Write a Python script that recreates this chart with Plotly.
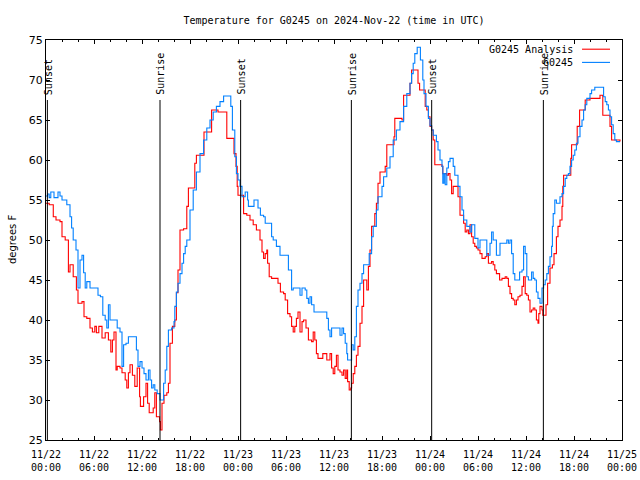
import plotly.graph_objects as go

# Hours since 2024-11-22 00:00 UTC
ana_hours = [0.0, 0.4, 0.91, 1.25, 1.75, 2.0, 2.4, 2.8, 3.0, 3.4, 3.8, 4.0, 4.5, 4.75, 5.1, 5.5, 5.8, 6.1, 6.3, 6.6,
             7.0, 7.4, 7.8, 8.1, 8.3, 8.5, 8.75, 8.9, 9.25, 9.5, 9.9, 10.1, 10.3, 10.5, 10.8, 11.1, 11.4, 11.7, 11.8, 12.2,
             12.5, 12.7, 12.9, 13.2, 13.4, 13.6, 13.8, 14.2, 14.3, 14.5, 14.75, 15.1, 15.3, 15.5, 15.8, 16.1, 16.3, 16.5, 16.75, 17.2,
             17.6, 17.8, 18.4, 18.6, 18.8, 19.6, 19.75, 20.5, 20.7, 21.5, 22.4, 22.6, 23.4, 23.5, 23.75, 23.9, 24.0, 24.5, 24.7, 25.1,
             25.5, 25.9, 26.3, 26.75, 27.0, 27.2, 27.4, 27.6, 27.7, 27.9, 28.2, 29.0, 29.3, 29.7, 29.9, 30.2, 30.5, 30.7, 30.9, 31.1,
             31.3, 31.5, 31.75, 32.0, 32.2, 32.5, 32.8, 33.2, 33.4, 33.6, 33.8, 34.0, 34.6, 35.1, 35.5, 35.7, 35.9, 36.1, 36.3, 36.5,
             36.75, 37.0, 37.2, 37.4, 37.6, 37.7, 37.9, 38.1, 38.2, 38.4, 38.6, 38.8, 39.0, 39.25, 39.5, 39.7, 40.1, 40.3, 40.5, 40.7,
             41.1, 41.3, 41.5, 41.75, 42.4, 42.6, 43.5, 43.6, 44.5, 44.7, 45.5, 45.7, 46.5, 46.7, 47.4, 47.6, 47.8, 48.0, 48.2, 48.4,
             48.6, 49.5, 49.6, 50.1, 50.3, 50.5, 50.7, 50.9, 51.5, 51.75, 52.2, 52.4, 52.6, 52.8, 53.0, 53.2, 53.4, 53.6, 53.8, 54.0,
             54.25, 54.5, 54.9, 55.1, 55.3, 55.7, 55.9, 56.1, 56.3, 56.7, 57.0, 57.4, 57.6, 57.8, 58.0, 58.2, 58.4, 58.6, 58.8, 59.0,
             59.25, 59.5, 59.7, 59.9, 60.1, 60.3, 60.5, 60.7, 60.9, 61.1, 61.3, 61.5, 61.6, 61.75, 62.0, 62.1, 62.5, 62.7, 63.0, 63.3,
             63.5, 63.8, 64.0, 64.25, 64.5, 64.6, 64.7, 65.6, 65.7, 66.4, 66.7, 67.4, 68.0, 69.25, 69.6, 70.5, 70.7, 71.75]
ana_temp = [54.6, 54.4, 52.9, 52.5, 52.3, 50.4, 50.0, 46.0, 46.9, 45.4, 43.75, 42.1, 42.3, 40.4, 40.2, 39.0, 38.5, 39.2, 38.4, 39.2,
            37.75, 38.4, 37.5, 36.0, 37.5, 38.5, 33.75, 34.2, 34.0, 33.4, 32.5, 31.5, 33.4, 34.4, 33.1, 31.7, 34.0, 30.4, 29.2, 30.4,
            32.1, 29.6, 28.4, 28.4, 29.0, 30.9, 27.9, 27.3, 26.25, 29.6, 30.6, 30.9, 32.1, 37.1, 39.2, 40.0, 43.4, 46.25, 51.25, 51.4,
            54.2, 56.5, 56.5, 59.6, 60.6, 60.6, 63.5, 63.5, 66.25, 66.0, 66.0, 62.7, 62.7, 60.8, 59.2, 56.7, 55.6, 55.6, 53.3, 53.1,
            52.5, 51.9, 51.25, 50.0, 48.5, 47.7, 48.3, 48.75, 47.1, 45.4, 45.2, 44.6, 43.5, 43.3, 42.5, 40.8, 40.4, 39.2, 38.5, 39.2,
            40.2, 41.0, 38.5, 39.8, 40.0, 39.0, 37.5, 37.3, 38.5, 37.5, 35.8, 35.2, 35.8, 35.0, 35.8, 34.0, 33.3, 34.2, 35.6, 33.75,
            33.5, 33.1, 33.75, 32.7, 33.75, 32.3, 31.25, 31.5, 32.1, 33.3, 34.2, 35.6, 36.7, 39.6, 41.7, 45.0, 43.75, 46.7, 48.75, 51.7,
            53.3, 54.6, 57.1, 58.5, 59.2, 61.9, 62.9, 65.2, 65.0, 68.1, 69.6, 71.25, 69.6, 68.75, 66.7, 66.25, 65.4, 64.2, 63.75, 62.5,
            59.4, 59.2, 58.3, 58.1, 58.3, 57.5, 55.8, 56.7, 55.4, 53.1, 52.1, 51.0, 51.25, 50.8, 51.9, 50.4, 49.6, 49.2, 49.0, 48.75,
            48.3, 47.7, 47.9, 48.3, 47.1, 47.3, 46.9, 46.25, 45.8, 45.0, 45.2, 45.4, 45.2, 44.2, 43.3, 42.7, 42.5, 41.9, 42.5, 42.9,
            43.1, 44.2, 45.4, 43.3, 43.1, 42.5, 41.0, 41.25, 41.5, 41.25, 40.0, 39.6, 40.8, 41.7, 41.25, 40.6, 41.9, 44.6, 46.5, 46.9,
            48.3, 50.4, 51.7, 52.5, 54.2, 56.7, 58.1, 60.2, 61.9, 64.2, 66.25, 67.5, 67.7, 68.1, 65.6, 64.2, 62.5, 62.3]

obs_hours = [0.0, 0.2, 0.4, 0.6, 1.0, 1.5, 1.75, 2.0, 2.6, 3.0, 3.2, 3.4, 3.75, 4.0, 4.25, 4.5, 4.7, 4.9, 5.1, 5.5,
             6.5, 6.8, 7.1, 7.4, 7.6, 7.8, 8.0, 8.9, 9.25, 9.5, 9.7, 10.0, 10.3, 11.3, 11.5, 11.75, 12.0, 12.25, 12.5, 12.8,
             13.0, 13.2, 13.4, 13.6, 13.9, 14.25, 14.7, 14.9, 15.1, 15.3, 15.7, 16.0, 16.1, 16.3, 16.5, 16.75, 17.0, 17.2, 17.4, 17.6,
             18.0, 18.4, 18.8, 19.25, 19.7, 20.1, 20.5, 20.9, 21.3, 21.75, 22.2, 23.1, 23.3, 23.6, 23.8, 24.0, 24.25, 24.5, 24.9, 25.2,
             25.3, 26.0, 26.5, 26.8, 27.2, 27.4, 28.2, 28.4, 28.8, 29.25, 30.3, 30.7, 30.9, 31.75, 32.0, 32.4, 32.6, 32.8, 33.0, 33.2,
             33.5, 35.1, 35.3, 35.5, 35.7, 36.75, 37.0, 37.2, 37.4, 37.6, 37.7, 38.2, 38.4, 38.6, 38.8, 39.0, 39.25, 39.5, 39.7, 40.4,
             40.7, 40.9, 41.3, 41.5, 42.0, 42.2, 42.6, 43.0, 43.4, 43.8, 44.25, 44.7, 45.1, 45.5, 45.7, 45.9, 46.1, 46.4, 46.8, 47.1,
             47.25, 47.5, 47.8, 48.0, 48.2, 48.4, 48.8, 49.0, 49.25, 49.5, 49.6, 49.75, 49.9, 50.1, 50.3, 50.5, 50.9, 51.1, 51.5, 51.75,
             52.0, 52.2, 52.6, 53.0, 53.2, 53.6, 54.0, 54.25, 55.1, 55.5, 55.7, 55.9, 56.3, 56.75, 57.6, 57.8, 58.0, 58.2, 58.4, 58.6,
             59.2, 59.5, 59.7, 59.9, 60.1, 60.3, 60.7, 60.9, 61.1, 61.3, 61.5, 61.75, 62.0, 62.2, 62.4, 62.6, 62.8, 63.0, 63.2, 63.3,
             63.4, 63.6, 63.8, 64.25, 64.5, 64.7, 64.9, 65.1, 65.3, 65.5, 65.7, 65.9, 66.1, 66.3, 66.5, 66.75, 67.0, 67.2, 67.4, 67.6,
             68.0, 68.2, 68.6, 69.7, 69.9, 70.1, 70.3, 70.5, 70.7, 70.9, 71.1, 71.3, 71.75]
obs_temp = [55.5, 55.75, 55.3, 56.0, 55.3, 56.0, 55.5, 55.0, 54.4, 52.9, 51.5, 50.0, 48.75, 44.0, 47.5, 48.1, 45.9, 44.0, 44.8, 44.0,
            43.1, 42.9, 40.6, 40.0, 39.0, 41.9, 40.0, 39.0, 38.5, 34.2, 36.9, 37.1, 37.9, 36.25, 34.2, 34.8, 34.0, 33.3, 32.5, 33.75,
            32.5, 31.5, 31.9, 31.25, 30.8, 30.0, 32.1, 33.75, 36.7, 38.75, 39.0, 39.8, 41.7, 43.5, 44.6, 45.8, 47.1, 48.3, 49.2, 50.0,
            53.75, 56.25, 58.5, 60.8, 62.5, 64.0, 65.0, 66.0, 66.7, 67.3, 68.0, 66.7, 63.75, 60.4, 58.3, 57.5, 56.7, 55.4, 56.0, 55.0,
            54.2, 55.0, 54.0, 53.1, 52.9, 52.1, 50.4, 50.0, 49.2, 48.1, 46.25, 43.75, 44.0, 43.1, 44.0, 43.75, 42.7, 42.1, 42.9, 41.9,
            41.0, 40.2, 38.75, 37.9, 39.0, 38.1, 39.0, 38.3, 37.1, 35.8, 35.0, 36.9, 36.25, 37.9, 41.7, 43.75, 44.6, 45.8, 46.9, 48.3,
            50.4, 51.7, 53.75, 55.4, 56.7, 57.9, 59.0, 60.4, 62.5, 63.75, 64.8, 66.7, 68.3, 69.6, 70.8, 72.1, 73.3, 74.1, 72.5, 70.0,
            68.3, 66.7, 65.2, 64.3, 63.75, 63.1, 62.3, 61.25, 60.0, 59.2, 57.1, 58.3, 56.9, 59.0, 59.8, 60.2, 59.2, 58.1, 56.7, 55.4,
            53.75, 52.5, 51.7, 51.0, 51.9, 50.2, 49.0, 50.0, 48.1, 49.6, 51.0, 50.0, 48.1, 49.6, 50.0, 49.6, 50.0, 48.3, 45.8, 45.0,
            46.0, 46.25, 49.2, 48.3, 45.4, 45.0, 46.0, 45.2, 45.0, 43.5, 42.7, 42.1, 44.0, 44.4, 45.0, 45.8, 46.7, 47.9, 49.2, 51.7,
            53.3, 55.0, 54.6, 55.4, 55.8, 56.7, 57.7, 58.1, 58.3, 59.2, 60.0, 60.6, 61.25, 62.1, 62.9, 64.2, 65.0, 66.25, 66.9, 67.7,
            68.3, 68.75, 69.1, 67.9, 67.3, 66.9, 66.25, 65.4, 64.4, 63.3, 62.5, 62.3, 62.3]

sun_hours = [0.17, 14.25, 24.33, 38.17, 48.21, 62.17]
sun_labels = ["Sunset", "Sunrise", "Sunset", "Sunrise", "Sunset", "Sunrise"]

series_names = ["G0245 Analysis", "G0245"]
series_colors = ["#ff0000", "#0080ff"]

tick_hours = [0, 6, 12, 18, 24, 30, 36, 42, 48, 54, 60, 66, 72]
tick_labels = ["11/22<br>00:00", "11/22<br>06:00", "11/22<br>12:00", "11/22<br>18:00",
               "11/23<br>00:00", "11/23<br>06:00", "11/23<br>12:00", "11/23<br>18:00",
               "11/24<br>00:00", "11/24<br>06:00", "11/24<br>12:00", "11/24<br>18:00",
               "11/25<br>00:00"]

MONO = "DejaVu Sans Mono"

fig = go.Figure()
fig.add_trace(go.Scatter(x=ana_hours, y=ana_temp, mode="lines", line_shape="hv",
                         line=dict(color=series_colors[0], width=1.1), name=series_names[0],
                         showlegend=False))
fig.add_trace(go.Scatter(x=obs_hours, y=obs_temp, mode="lines", line_shape="hv",
                         line=dict(color=series_colors[1], width=1.1), name=series_names[1],
                         showlegend=False))

shapes = []
annotations = []
for h, lab in zip(sun_hours, sun_labels):
    shapes.append(dict(type="line", xref="x", yref="y", x0=h, x1=h, y0=25, y1=67.5,
                       line=dict(color="black", width=1)))
    annotations.append(dict(x=h, y=67.9, xref="x", yref="y", text=lab, textangle=-90,
                            showarrow=False, xanchor="center", yanchor="bottom", xshift=1,
                            font=dict(family=MONO, size=10, color="black")))

# manual legend (gnuplot style: text then sample on the right)
leg_y = [0.977, 0.944]
for name, col, yy in zip(series_names, series_colors, leg_y):
    annotations.append(dict(x=0.9184, y=yy, xref="paper", yref="paper", text=name,
                            showarrow=False, xanchor="right", yanchor="middle",
                            font=dict(family=MONO, size=10, color="black")))
    shapes.append(dict(type="line", xref="paper", yref="paper", x0=0.9306, x1=0.9792,
                       y0=yy, y1=yy, line=dict(color=col, width=1.1)))

annotations.append(dict(x=-0.059, y=0.5, xref="paper", yref="paper", text="degrees F",
                        textangle=-90, showarrow=False, xanchor="center", yanchor="middle",
                        font=dict(family="DejaVu Sans", size=10, color="black")))

fig.update_layout(
    width=640, height=480,
    margin=dict(l=46, r=18, t=40, b=40, autoexpand=False),
    paper_bgcolor="white", plot_bgcolor="white",
    title=dict(text="Temperature for G0245 on 2024-Nov-22 (time in UTC)",
               x=0.5, xref="paper", xanchor="center", y=1 - 20 / 480, yref="container",
               yanchor="middle", font=dict(family=MONO, size=10, color="black")),
    shapes=shapes, annotations=annotations,
    showlegend=False,
)
fig.update_xaxes(range=[0, 72], tickmode="array", tickvals=tick_hours, ticktext=tick_labels,
                 ticks="inside", ticklen=4, tickcolor="black", showline=True, linecolor="black",
                 linewidth=1, mirror="ticks", showgrid=False, zeroline=False,
                 ticklabelstandoff=5,
                 tickfont=dict(family=MONO, size=10, color="black"),
                 minor=dict(tickmode="linear", tick0=0, dtick=2, ticks="inside", ticklen=2,
                            tickcolor="black", showgrid=False))
fig.update_yaxes(range=[25, 75], tickmode="linear", tick0=25, dtick=5,
                 ticks="inside", ticklen=4, tickcolor="black", showline=True, linecolor="black",
                 linewidth=1, mirror="ticks", showgrid=False, zeroline=False,
                 tickfont=dict(family="DejaVu Sans", size=11, color="black"))

fig.write_html("out.html")
